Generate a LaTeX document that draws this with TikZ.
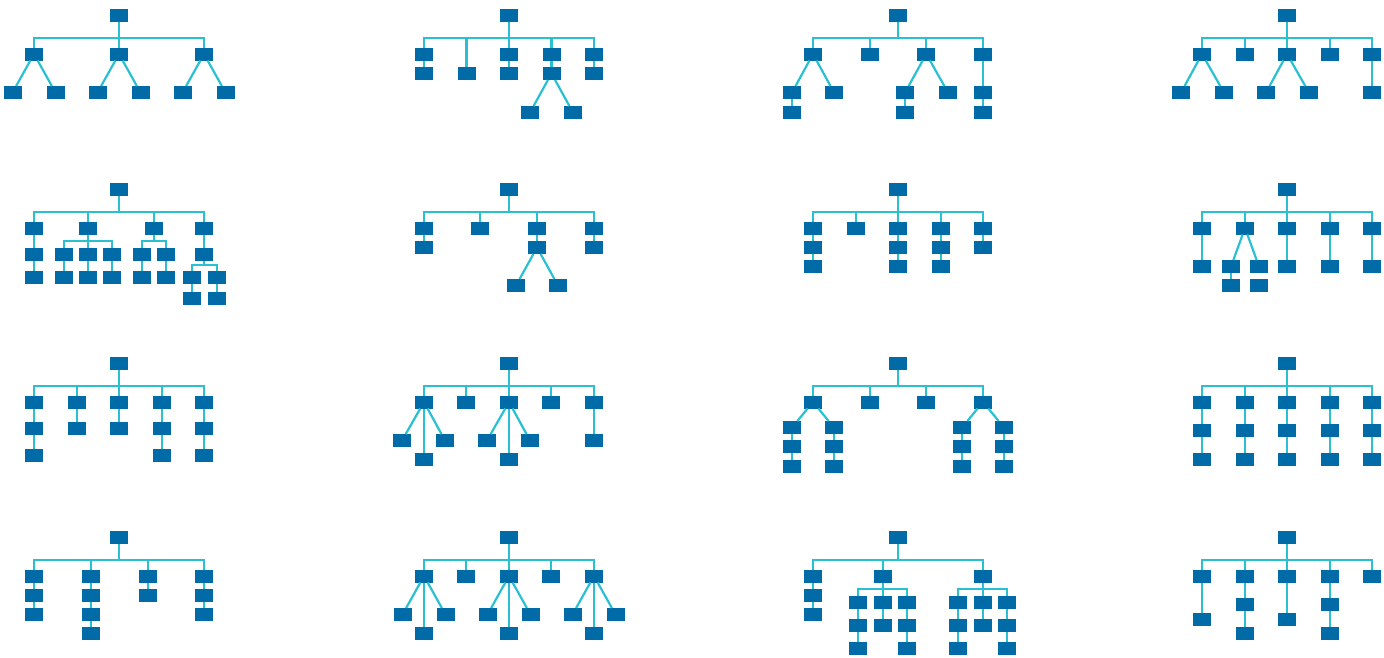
\documentclass[tikz,border=0pt]{standalone}
\definecolor{boxc}{HTML}{006BA6}
\definecolor{linec}{HTML}{29C1D2}
\tikzset{
  bx/.style={fill=boxc,draw=none,minimum width=18pt,minimum height=13pt,inner sep=0pt,outer sep=0pt},
  ln/.style={draw=linec,line width=2.2pt}
}
\newcommand{\bx}[3]{\node[bx] (#1) at (#2,#3) {};}
\newcommand{\lk}[2]{\draw[ln] (#1) -- (#2);}
\newcommand{\br}[3]{\draw[ln] (#1) -- (#3) -| (#2);}
\begin{document}
\begin{tikzpicture}[x=1pt,y=-1pt]
\useasboundingbox (0,0) rectangle (1384,657);
% ---------- Panel A ----------
\begin{scope}[shift={(119,15.5)}]
\bx{a0}{0}{0}
\bx{a1}{-85}{38.5}\bx{a2}{0}{38.5}\bx{a3}{85}{38.5}
\bx{a11}{-106.5}{77}\bx{a12}{-63.5}{77}\bx{a21}{-21.5}{77}\bx{a22}{21.5}{77}\bx{a31}{63.5}{77}\bx{a32}{106.5}{77}
\coordinate (ab) at (0,22.5);
\br{a0}{a1}{ab}\br{a0}{a2}{ab}\br{a0}{a3}{ab}
\lk{a1}{a11}\lk{a1}{a12}\lk{a2}{a21}\lk{a2}{a22}\lk{a3}{a31}\lk{a3}{a32}
\end{scope}
% ---------- Panel B ----------
\begin{scope}[shift={(509,15.5)}]
\bx{b0}{0}{0}
\bx{b1}{-85}{38.5}\bx{b1a}{-85}{58}
\bx{b2}{-42.5}{58}
\bx{b3}{0}{38.5}\bx{b3a}{0}{58}
\bx{b4}{42.5}{38.5}\bx{b4a}{42.5}{58}\bx{b4b}{21}{97}\bx{b4c}{64}{97}
\bx{b5}{85}{38.5}\bx{b5a}{85}{58}
\coordinate (bb) at (0,22.5);
\br{b0}{b1}{bb}\br{b0}{b2}{bb}\br{b0}{b3}{bb}\br{b0}{b4}{bb}\br{b0}{b5}{bb}
\lk{b1}{b1a}\lk{b3}{b3a}\lk{b4}{b4a}\lk{b4a}{b4b}\lk{b4a}{b4c}\lk{b5}{b5a}
\end{scope}
% ---------- Panel C ----------
\begin{scope}[shift={(898,15.5)}]
\bx{c0}{0}{0}
\bx{c1}{-85}{38.5}\bx{c2}{-28.3}{38.5}\bx{c3}{28.3}{38.5}\bx{c4}{85}{38.5}
\bx{c11}{-106}{77}\bx{c12}{-64}{77}\bx{c11a}{-106}{97}
\bx{c31}{7}{77}\bx{c32}{50}{77}\bx{c31a}{7}{97}
\bx{c4a}{85}{77}\bx{c4b}{85}{97}
\coordinate (cb) at (0,22.5);
\br{c0}{c1}{cb}\br{c0}{c2}{cb}\br{c0}{c3}{cb}\br{c0}{c4}{cb}
\lk{c1}{c11}\lk{c1}{c12}\lk{c11}{c11a}
\lk{c3}{c31}\lk{c3}{c32}\lk{c31}{c31a}
\lk{c4}{c4a}\lk{c4a}{c4b}
\end{scope}
% ---------- Panel D ----------
\begin{scope}[shift={(1287,15.5)}]
\bx{d0}{0}{0}
\bx{d1}{-85}{38.5}\bx{d2}{-42}{38.5}\bx{d3}{0}{38.5}\bx{d4}{43}{38.5}\bx{d5}{85}{38.5}
\bx{d11}{-106}{77}\bx{d12}{-63}{77}\bx{d31}{-21}{77}\bx{d32}{22}{77}\bx{d5a}{85}{77}
\coordinate (db) at (0,22.5);
\br{d0}{d1}{db}\br{d0}{d2}{db}\br{d0}{d3}{db}\br{d0}{d4}{db}\br{d0}{d5}{db}
\lk{d1}{d11}\lk{d1}{d12}\lk{d3}{d31}\lk{d3}{d32}\lk{d5}{d5a}
\end{scope}
% ---------- Panel E ----------
\begin{scope}[shift={(119,189.5)}]
\bx{e0}{0}{0}
\bx{e1}{-85}{38.5}\bx{e1a}{-85}{65}\bx{e1b}{-85}{88}
\bx{e2}{-31}{38.5}
\bx{e21}{-55}{65}\bx{e22}{-31}{65}\bx{e23}{-7}{65}
\bx{e21a}{-55}{88}\bx{e22a}{-31}{88}\bx{e23a}{-7}{88}
\bx{e3}{35}{38.5}
\bx{e31}{23}{65}\bx{e32}{47}{65}\bx{e31a}{23}{88}\bx{e32a}{47}{88}
\bx{e4}{85}{38.5}\bx{e4a}{85}{65}
\bx{e41}{73}{88}\bx{e42}{98}{88}\bx{e41a}{73}{109}\bx{e42a}{98}{109}
\coordinate (eb) at (0,22.5);
\coordinate (eb2) at (-31,51.5);
\coordinate (eb3) at (35,51.5);
\coordinate (eb4) at (85,75.5);
\br{e0}{e1}{eb}\br{e0}{e2}{eb}\br{e0}{e3}{eb}\br{e0}{e4}{eb}
\lk{e1}{e1a}\lk{e1a}{e1b}
\br{e2}{e21}{eb2}\br{e2}{e22}{eb2}\br{e2}{e23}{eb2}
\lk{e21}{e21a}\lk{e22}{e22a}\lk{e23}{e23a}
\br{e3}{e31}{eb3}\br{e3}{e32}{eb3}
\lk{e31}{e31a}\lk{e32}{e32a}
\lk{e4}{e4a}
\br{e4a}{e41}{eb4}\br{e4a}{e42}{eb4}
\lk{e41}{e41a}\lk{e42}{e42a}
\end{scope}
% ---------- Panel F ----------
\begin{scope}[shift={(509,189.5)}]
\bx{f0}{0}{0}
\bx{f1}{-85}{38.5}\bx{f1a}{-85}{58}
\bx{f2}{-29}{38.5}
\bx{f3}{28}{38.5}\bx{f3a}{28}{58}\bx{f31}{7}{96}\bx{f32}{49}{96}
\bx{f4}{85}{38.5}\bx{f4a}{85}{58}
\coordinate (fb) at (0,22.5);
\br{f0}{f1}{fb}\br{f0}{f2}{fb}\br{f0}{f3}{fb}\br{f0}{f4}{fb}
\lk{f1}{f1a}\lk{f3}{f3a}\lk{f3a}{f31}\lk{f3a}{f32}\lk{f4}{f4a}
\end{scope}
% ---------- Panel G ----------
\begin{scope}[shift={(898,189.5)}]
\bx{g0}{0}{0}
\bx{g1}{-85}{38.5}\bx{g1a}{-85}{58}\bx{g1b}{-85}{77}
\bx{g2}{-42}{38.5}
\bx{g3}{0}{38.5}\bx{g3a}{0}{58}\bx{g3b}{0}{77}
\bx{g4}{43}{38.5}\bx{g4a}{43}{58}\bx{g4b}{43}{77}
\bx{g5}{85}{38.5}\bx{g5a}{85}{58}
\coordinate (gb) at (0,22.5);
\br{g0}{g1}{gb}\br{g0}{g2}{gb}\br{g0}{g3}{gb}\br{g0}{g4}{gb}\br{g0}{g5}{gb}
\lk{g1}{g1a}\lk{g1a}{g1b}\lk{g3}{g3a}\lk{g3a}{g3b}\lk{g4}{g4a}\lk{g4a}{g4b}\lk{g5}{g5a}
\end{scope}
% ---------- Panel H ----------
\begin{scope}[shift={(1287,189.5)}]
\bx{h0}{0}{0}
\bx{h1}{-85}{38.5}\bx{h1a}{-85}{77}
\bx{h2}{-42}{38.5}\bx{h21}{-56}{77}\bx{h22}{-28}{77}\bx{h21a}{-56}{96}\bx{h22a}{-28}{96}
\bx{h3}{0}{38.5}\bx{h3a}{0}{77}
\bx{h4}{43}{38.5}\bx{h4a}{43}{77}
\bx{h5}{85}{38.5}\bx{h5a}{85}{77}
\coordinate (hb) at (0,22.5);
\br{h0}{h1}{hb}\br{h0}{h2}{hb}\br{h0}{h3}{hb}\br{h0}{h4}{hb}\br{h0}{h5}{hb}
\lk{h1}{h1a}\lk{h2}{h21}\lk{h2}{h22}\lk{h21}{h21a}\lk{h3}{h3a}\lk{h4}{h4a}\lk{h5}{h5a}
\end{scope}
% ---------- Panel I ----------
\begin{scope}[shift={(119,363.5)}]
\bx{i0}{0}{0}
\bx{i1}{-85}{38.5}\bx{i1a}{-85}{65}\bx{i1b}{-85}{92}
\bx{i2}{-42}{38.5}\bx{i2a}{-42}{65}
\bx{i3}{0}{38.5}\bx{i3a}{0}{65}
\bx{i4}{43}{38.5}\bx{i4a}{43}{65}\bx{i4b}{43}{92}
\bx{i5}{85}{38.5}\bx{i5a}{85}{65}\bx{i5b}{85}{92}
\coordinate (ib) at (0,22.5);
\br{i0}{i1}{ib}\br{i0}{i2}{ib}\br{i0}{i3}{ib}\br{i0}{i4}{ib}\br{i0}{i5}{ib}
\lk{i1}{i1a}\lk{i1a}{i1b}\lk{i2}{i2a}\lk{i3}{i3a}\lk{i4}{i4a}\lk{i4a}{i4b}\lk{i5}{i5a}\lk{i5a}{i5b}
\end{scope}
% ---------- Panel J ----------
\begin{scope}[shift={(509,363.5)}]
\bx{j0}{0}{0}
\bx{j1}{-85}{38.5}\bx{j11}{-107}{77}\bx{j12}{-64}{77}\bx{j13}{-85}{96}
\bx{j2}{-43}{38.5}
\bx{j3}{0}{38.5}\bx{j31}{-22}{77}\bx{j32}{21}{77}\bx{j33}{0}{96}
\bx{j4}{42}{38.5}
\bx{j5}{85}{38.5}\bx{j5a}{85}{77}
\coordinate (jb) at (0,22.5);
\br{j0}{j1}{jb}\br{j0}{j2}{jb}\br{j0}{j3}{jb}\br{j0}{j4}{jb}\br{j0}{j5}{jb}
\lk{j1}{j11}\lk{j1}{j12}\lk{j1}{j13}\lk{j3}{j31}\lk{j3}{j32}\lk{j3}{j33}\lk{j5}{j5a}
\end{scope}
% ---------- Panel K ----------
\begin{scope}[shift={(898,363.5)}]
\bx{k0}{0}{0}
\bx{k1}{-85}{38.5}\bx{k2}{-28}{38.5}\bx{k3}{28}{38.5}\bx{k4}{85}{38.5}
\bx{k11}{-106}{64}\bx{k11a}{-106}{83}\bx{k11b}{-106}{103}
\bx{k12}{-64}{64}\bx{k12a}{-64}{83}\bx{k12b}{-64}{103}
\bx{k41}{64}{64}\bx{k41a}{64}{83}\bx{k41b}{64}{103}
\bx{k42}{106}{64}\bx{k42a}{106}{83}\bx{k42b}{106}{103}
\coordinate (kb) at (0,22.5);
\br{k0}{k1}{kb}\br{k0}{k2}{kb}\br{k0}{k3}{kb}\br{k0}{k4}{kb}
\lk{k1}{k11}\lk{k1}{k12}\lk{k4}{k41}\lk{k4}{k42}
\lk{k11}{k11a}\lk{k11a}{k11b}\lk{k12}{k12a}\lk{k12a}{k12b}
\lk{k41}{k41a}\lk{k41a}{k41b}\lk{k42}{k42a}\lk{k42a}{k42b}
\end{scope}
% ---------- Panel L ----------
\begin{scope}[shift={(1287,363.5)}]
\bx{l0}{0}{0}
\coordinate (lb) at (0,22.5);
\foreach \n/\x in {1/-85,2/-42,3/0,4/43,5/85}{
  \bx{l\n}{\x}{38.5}\bx{l\n a}{\x}{67}\bx{l\n b}{\x}{96}
  \br{l0}{l\n}{lb}\lk{l\n}{l\n a}\lk{l\n a}{l\n b}
}
\end{scope}
% ---------- Panel M ----------
\begin{scope}[shift={(119,537.5)}]
\bx{m0}{0}{0}
\bx{m1}{-85}{38.5}\bx{m1a}{-85}{57.5}\bx{m1b}{-85}{76.5}
\bx{m2}{-28}{38.5}\bx{m2a}{-28}{57.5}\bx{m2b}{-28}{76.5}\bx{m2c}{-28}{95.5}
\bx{m3}{29}{38.5}\bx{m3a}{29}{57.5}
\bx{m4}{85}{38.5}\bx{m4a}{85}{57.5}\bx{m4b}{85}{76.5}
\coordinate (mb) at (0,22.5);
\br{m0}{m1}{mb}\br{m0}{m2}{mb}\br{m0}{m3}{mb}\br{m0}{m4}{mb}
\lk{m1}{m1a}\lk{m1a}{m1b}\lk{m2}{m2a}\lk{m2a}{m2b}\lk{m2b}{m2c}\lk{m3}{m3a}\lk{m4}{m4a}\lk{m4a}{m4b}
\end{scope}
% ---------- Panel N ----------
\begin{scope}[shift={(509,537.5)}]
\bx{n0}{0}{0}
\coordinate (nb) at (0,22.5);
\bx{n2}{-43}{38.5}\bx{n4}{42}{38.5}
\br{n0}{n2}{nb}\br{n0}{n4}{nb}
\foreach \n/\x in {1/-85,3/0,5/85}{
  \bx{n\n}{\x}{38.5}
  \bx{n\n l}{\x-21.5}{77}\bx{n\n r}{\x+21.5}{77}\bx{n\n m}{\x}{96}
  \br{n0}{n\n}{nb}\lk{n\n}{n\n l}\lk{n\n}{n\n r}\lk{n\n}{n\n m}
}
\end{scope}
% ---------- Panel O ----------
\begin{scope}[shift={(898,537.5)}]
\bx{o0}{0}{0}
\bx{o1}{-85}{38.5}\bx{o1a}{-85}{57.5}\bx{o1b}{-85}{76.5}
\bx{o2}{-15}{38.5}\bx{o3}{85}{38.5}
\coordinate (ob) at (0,22.5);
\coordinate (ob2) at (-15,51.5);
\coordinate (ob3) at (85,51.5);
\br{o0}{o1}{ob}\br{o0}{o2}{ob}\br{o0}{o3}{ob}
\lk{o1}{o1a}\lk{o1a}{o1b}
\bx{o21}{-40}{64.5}\bx{o22}{-15}{64.5}\bx{o23}{9}{64.5}
\bx{o21a}{-40}{87.5}\bx{o21b}{-40}{110.5}\bx{o22a}{-15}{87.5}\bx{o23a}{9}{87.5}\bx{o23b}{9}{110.5}
\br{o2}{o21}{ob2}\br{o2}{o22}{ob2}\br{o2}{o23}{ob2}
\lk{o21}{o21a}\lk{o21a}{o21b}\lk{o22}{o22a}\lk{o23}{o23a}\lk{o23a}{o23b}
\bx{o31}{60}{64.5}\bx{o32}{85}{64.5}\bx{o33}{109}{64.5}
\bx{o31a}{60}{87.5}\bx{o31b}{60}{110.5}\bx{o32a}{85}{87.5}\bx{o33a}{109}{87.5}\bx{o33b}{109}{110.5}
\br{o3}{o31}{ob3}\br{o3}{o32}{ob3}\br{o3}{o33}{ob3}
\lk{o31}{o31a}\lk{o31a}{o31b}\lk{o32}{o32a}\lk{o33}{o33a}\lk{o33a}{o33b}
\end{scope}
% ---------- Panel P ----------
\begin{scope}[shift={(1287,537.5)}]
\bx{p0}{0}{0}
\bx{p1}{-85}{38.5}\bx{p1a}{-85}{81.5}
\bx{p2}{-42}{38.5}\bx{p2a}{-42}{66.5}\bx{p2b}{-42}{95.5}
\bx{p3}{0}{38.5}\bx{p3a}{0}{81.5}
\bx{p4}{43}{38.5}\bx{p4a}{43}{66.5}\bx{p4b}{43}{95.5}
\bx{p5}{85}{38.5}
\coordinate (pb) at (0,22.5);
\br{p0}{p1}{pb}\br{p0}{p2}{pb}\br{p0}{p3}{pb}\br{p0}{p4}{pb}\br{p0}{p5}{pb}
\lk{p1}{p1a}\lk{p2}{p2a}\lk{p2a}{p2b}\lk{p3}{p3a}\lk{p4}{p4a}\lk{p4a}{p4b}
\end{scope}
\end{tikzpicture}
\end{document}
